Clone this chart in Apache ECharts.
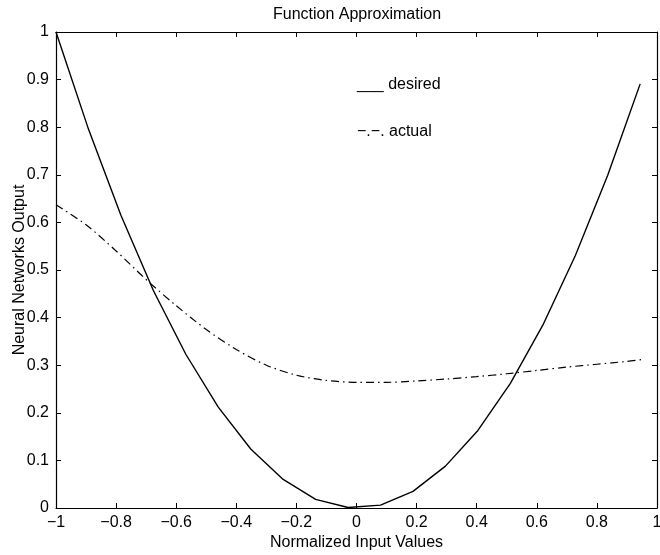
<!DOCTYPE html>
<html>
<head>
<meta charset="utf-8">
<script src="https://cdn.jsdelivr.net/npm/echarts@6/dist/echarts.min.js"></script>
<style>
  html, body { margin: 0; padding: 0; background: #fff; }
  #chart { width: 660px; height: 555px; }
</style>
</head>
<body>
<div id="chart"></div>
<script>
// desired output (solid line)
const desiredX = [-1, -0.892, -0.784, -0.676, -0.568, -0.46, -0.352, -0.244, -0.136, -0.028,
  0.08, 0.188, 0.296, 0.404, 0.512, 0.62, 0.728, 0.836, 0.944];
const desiredY = [1, 0.796, 0.615, 0.457, 0.323, 0.212, 0.124, 0.06, 0.018, 0.001,
  0.006, 0.035, 0.088, 0.163, 0.262, 0.384, 0.53, 0.699, 0.891];

// network output (dash-dot line)
const actualX = [-1, -0.9, -0.8, -0.7, -0.6, -0.5, -0.4, -0.3, -0.2, -0.1,
  0, 0.1, 0.2, 0.3, 0.4, 0.5, 0.6, 0.7, 0.8, 0.9, 0.95];
const actualY = [0.637, 0.595, 0.54, 0.48, 0.425, 0.375, 0.333, 0.3, 0.279, 0.268,
  0.264, 0.264, 0.267, 0.271, 0.276, 0.282, 0.289, 0.296, 0.302, 0.308, 0.312];

const titleText = 'Function Approximation';
const xName = 'Normalized Input Values';
const yName = 'Neural Networks Output';
const legendDesired = '___ desired';
const legendActual = '\u2212.\u2212. actual';

const font = '"Liberation Sans", Arial, Helvetica, sans-serif';

const pairs = (xs, ys) => xs.map((x, i) => [x, ys[i]]);
const fmtX = v => (v < 0 ? '\u2212' + Math.abs(v) : String(v));

const chart = echarts.init(document.getElementById('chart'), null, { renderer: 'canvas' });

const boxLine = { show: true, onZero: false, lineStyle: { color: '#000', width: 1.2 } };
const inTick = { show: true, inside: true, length: 5, lineStyle: { color: '#000', width: 1 } };

const option = {
  backgroundColor: '#fff',
  animation: false,
  textStyle: { fontFamily: font },
  grid: { left: 56, right: 3, top: 32, bottom: 47, containLabel: false, outerBoundsMode: 'none' },
  xAxis: [
    {
      type: 'value', min: -1, max: 1, interval: 0.2, position: 'bottom',
      name: xName, nameLocation: 'middle', nameGap: 27, nameMoveOverlap: false,
      nameTextStyle: { color: '#000', fontSize: 16, fontFamily: font },
      axisLine: boxLine, axisTick: inTick,
      axisLabel: { color: '#000', fontSize: 16, fontFamily: font, margin: 7, formatter: fmtX },
      splitLine: { show: false }
    },
    {
      type: 'value', min: -1, max: 1, interval: 0.2, position: 'top',
      axisLine: boxLine, axisTick: inTick, axisLabel: { show: false }, splitLine: { show: false }
    }
  ],
  yAxis: [
    {
      type: 'value', min: 0, max: 1, interval: 0.1, position: 'left',
      name: yName, nameLocation: 'middle', nameGap: 28, nameRotate: 90, nameMoveOverlap: false,
      nameTextStyle: { color: '#000', fontSize: 16, fontFamily: font },
      axisLine: boxLine, axisTick: inTick,
      axisLabel: { color: '#000', fontSize: 16, fontFamily: font, margin: 7 },
      splitLine: { show: false }
    },
    {
      type: 'value', min: 0, max: 1, interval: 0.1, position: 'right',
      axisLine: boxLine, axisTick: inTick, axisLabel: { show: false }, splitLine: { show: false }
    }
  ],
  graphic: [
    {
      type: 'text', x: 357, y: 7,
      style: { text: titleText, fill: '#000', font: '16px ' + font, textAlign: 'center' }
    },
    {
      type: 'text', x: 357, y: 77,
      style: { text: legendDesired, fill: '#000', font: '16px ' + font }
    },
    {
      type: 'text', x: 357, y: 124,
      style: { text: legendActual, fill: '#000', font: '16px ' + font }
    }
  ],
  series: [
    {
      name: 'desired', type: 'line', xAxisIndex: 0, yAxisIndex: 0,
      data: pairs(desiredX, desiredY),
      showSymbol: false, symbol: 'none',
      lineStyle: { color: '#000', width: 1.4 }
    },
    {
      name: 'actual', type: 'line', xAxisIndex: 0, yAxisIndex: 0,
      data: pairs(actualX, actualY),
      showSymbol: false, symbol: 'none', smooth: 0.3,
      lineStyle: { color: '#000', width: 1.2, type: [8, 4, 1.5, 4] }
    }
  ]
};

chart.setOption(option);
</script>
</body>
</html>
